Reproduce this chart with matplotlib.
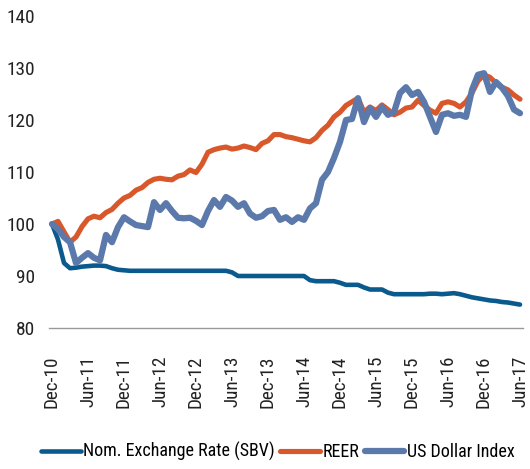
import matplotlib
matplotlib.use("Agg")
import matplotlib.pyplot as plt
from matplotlib import font_manager
from matplotlib.textpath import TextPath

installed = sorted({f.name for f in font_manager.fontManager.ttflist})
prefs = ['Liberation Sans Narrow', 'Arial Narrow', 'Roboto Condensed',
         'Open Sans Condensed', 'DejaVu Sans Condensed']
narrow = [n for n in prefs if n in installed]
narrow += [n for n in installed if ('Narrow' in n or 'Condensed' in n) and n not in narrow]
family = narrow[0] if narrow else 'Liberation Sans'
plt.rcParams['font.family'] = [family, 'DejaVu Sans']
fp = font_manager.FontProperties(family=family)


def size_for(text, width_px):
    w = TextPath((0, 0), text, size=10, prop=fp).get_extents().width  # points at size 10
    return 10 * width_px / (w * 100 / 72)


months = ["Dec-10", "Jun-11", "Dec-11", "Jun-12", "Dec-12", "Jun-13", "Dec-13",
          "Jun-14", "Dec-14", "Jun-15", "Dec-15", "Jun-16", "Dec-16", "Jun-17"]

# monthly index values, Dec-10 = 100 (Dec-10 .. Jun-17)
nominal = [100, 97, 92.5, 91.5, 91.6, 91.8, 91.9, 92, 92, 91.9,
           91.5, 91.2, 91.1, 91, 91, 91, 91, 91, 91, 91,
           91, 91, 91, 91, 91, 91, 91, 91, 91, 91,
           90.7, 90, 90, 90, 90, 90, 90, 90, 90, 90,
           90, 90, 90, 89.2, 89, 89, 89, 89, 88.7, 88.3,
           88.3, 88.3, 87.8, 87.4, 87.4, 87.4, 86.8, 86.5, 86.5, 86.5,
           86.5, 86.5, 86.5, 86.6, 86.6, 86.5, 86.6, 86.7, 86.5, 86.2,
           85.9, 85.7, 85.5, 85.3, 85.2, 85.0, 84.9, 84.7, 84.5]

reer = [100, 100.5, 98.5, 96.5, 97.5, 99.5, 101, 101.5, 101.2, 102.2,
        102.8, 104, 105, 105.5, 106.5, 107, 108, 108.6, 108.8, 108.6,
        108.5, 109.2, 109.5, 110.4, 109.9, 111.5, 113.8, 114.3, 114.6, 114.8,
        114.4, 114.6, 115, 114.7, 114.3, 115.5, 116, 117.2, 117.2, 116.8,
        116.6, 116.3, 116, 115.8, 116.6, 118, 119, 120.6, 121.5, 122.8,
        123.5, 124.2, 121.5, 122.5, 121.8, 122.9, 122, 121, 121.5, 122.3,
        122.5, 123.8, 122.8, 121.9, 121.3, 123.2, 123.5, 123.2, 122.5, 123.5,
        125.2, 127.5, 128.7, 128.2, 127.1, 126.3, 125.8, 124.8, 124]

usd = [100, 99, 97.5, 96.5, 92.5, 93.5, 94.4, 93.5, 93, 97.9,
       96.5, 99.4, 101.3, 100.5, 99.8, 99.6, 99.4, 104.2, 102.7, 104,
       102.5, 101.2, 101.1, 101.2, 100.6, 99.8, 102.5, 104.6, 103.3, 105.2,
       104.5, 103.3, 104, 102, 101.2, 101.5, 102.5, 102.7, 100.8, 101.3,
       100.4, 101.3, 100.8, 103, 104, 108.5, 110, 112.7, 115.8, 120,
       120.2, 124.2, 119.6, 122.3, 120.6, 122.5, 121, 121.5, 125.2, 126.3,
       124.8, 125.4, 123.5, 120.6, 117.7, 121, 121.3, 120.8, 121, 120.6,
       125.8, 128.7, 129, 125.4, 127.3, 126.2, 124.6, 122, 121.3]

# font sizes fitted to the reference text extents
legend_fs = size_for("Nom. Exchange Rate (SBV)", 189)
xtick_fs = size_for("Dec-10", 50)
ytick_fs = size_for("140", 26)

fig = plt.figure(figsize=(5.30, 4.69), dpi=100)
ax = fig.add_axes([49 / 530, 1 - 328 / 469, 474 / 530, 312 / 469])

x = list(range(len(nominal)))
ax.plot(x, nominal, color='#0a5a8e', lw=3.3, label='Nom. Exchange Rate (SBV)',
        solid_capstyle='round', clip_on=False)
ax.plot(x, reer, color='#d9582b', lw=3.7, label='REER',
        solid_capstyle='round', clip_on=False)
ax.plot(x, usd, color='#5b79aa', lw=4.5, label='US Dollar Index',
        solid_capstyle='round', clip_on=False)

ax.set_xlim(-0.5, 78.5)
ax.set_ylim(80, 140)
ax.set_yticks(range(80, 141, 10))
ax.set_xticks(range(0, 79, 6))
ax.set_xticklabels(months, rotation=90, fontsize=xtick_fs)
ax.tick_params(axis='both', length=0, colors='#222222')
ax.tick_params(axis='y', pad=10, labelsize=ytick_fs)
ax.tick_params(axis='x', pad=20)

for s in ['top', 'right', 'left']:
    ax.spines[s].set_visible(False)
ax.spines['bottom'].set_color('#999999')
ax.spines['bottom'].set_linewidth(1.0)

ax.legend(loc='center', bbox_to_anchor=((278 - 49) / 474, -0.397), ncol=3, frameon=False,
          fontsize=legend_fs, handlelength=2.2, handletextpad=0.15, columnspacing=0.3)

fig.savefig('out.png', dpi=100)
